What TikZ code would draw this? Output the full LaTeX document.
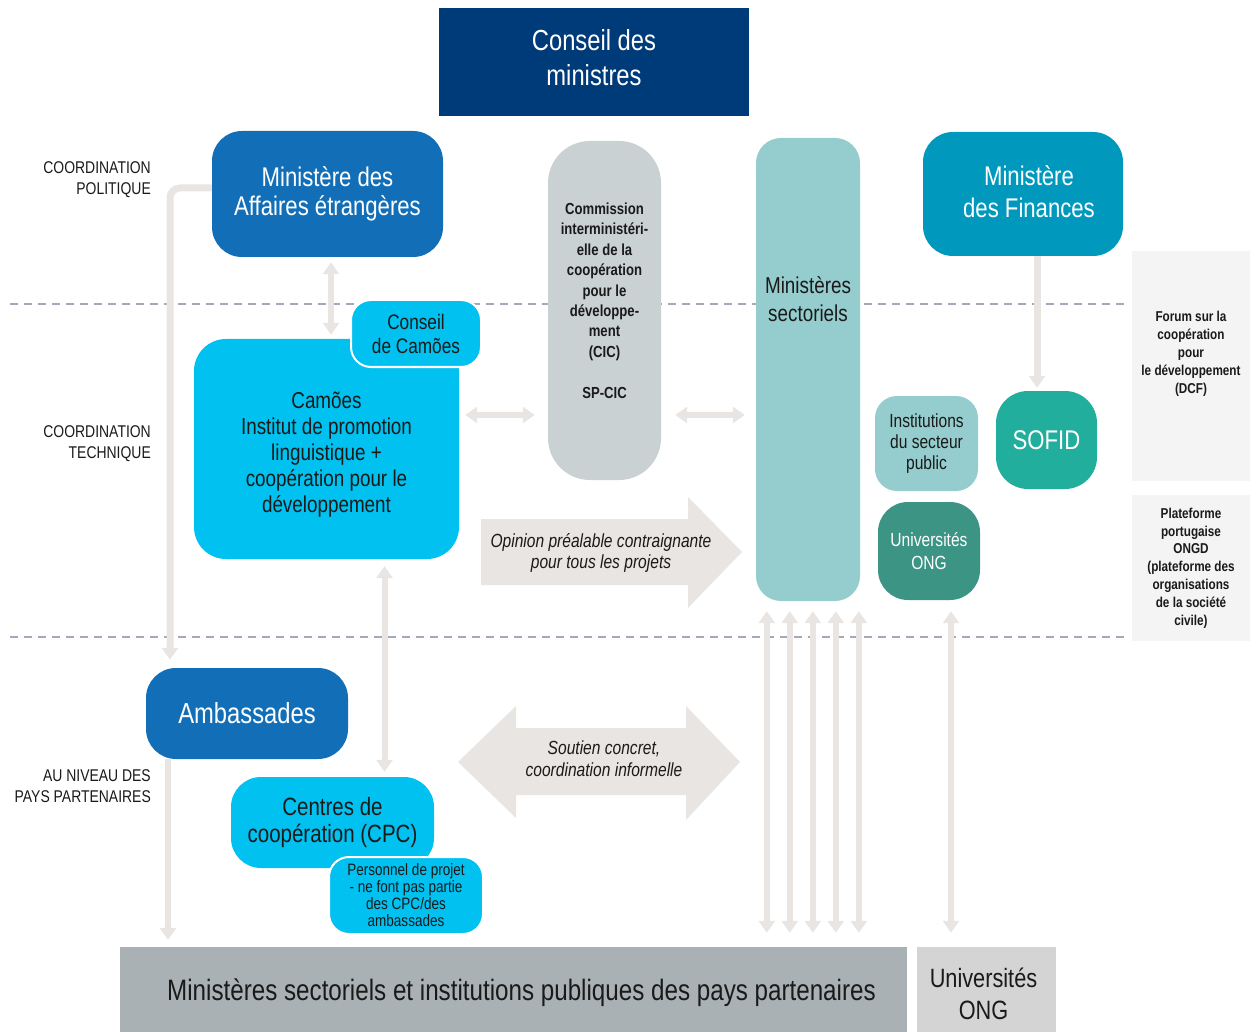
\documentclass[tikz,border=0pt]{standalone}
\usepackage{fontspec}
\setmainfont{Liberation Sans}[FakeStretch=0.82]
\usetikzlibrary{arrows.meta,backgrounds}
\definecolor{navy}{HTML}{003B79}
\definecolor{maeblue}{HTML}{126FB7}
\definecolor{cyanbox}{HTML}{00C1EF}
\definecolor{cicgrey}{HTML}{C9D1D3}
\definecolor{tealbox}{HTML}{95CCCD}
\definecolor{finblue}{HTML}{0099BD}
\definecolor{sofidc}{HTML}{22AE9C}
\definecolor{univgreen}{HTML}{3C9484}
\definecolor{forumbg}{HTML}{F4F4F4}
\definecolor{agrey}{HTML}{E8E5E2}
\definecolor{botgrey}{HTML}{A9B1B4}
\definecolor{univgrey}{HTML}{D4D4D4}
\definecolor{dashc}{HTML}{A3A9B8}
\definecolor{txt}{HTML}{1A1A1A}
\newcommand\myfs[2]{\fontsize{#1}{#2}\selectfont}
\begin{document}
\begin{tikzpicture}[x=1pt,y=-1pt,
  box/.style={inner sep=0pt, align=center, text=txt},
  wbox/.style={inner sep=0pt, align=center, text=white},
  lbl/.style={inner sep=0pt, align=right, anchor=east, text=txt, font=\myfs{17}{21}},
  tipA/.tip={Triangle[width=16pt,length=12pt]},
  sarrow/.style={draw=agrey, line width=6pt, -tipA},
  dblarrow/.style={draw=agrey, line width=6pt, tipA-tipA},
  dashln/.style={draw=dashc, line width=1.4pt, dash pattern=on 8pt off 6pt}]
\useasboundingbox (0,0) rectangle (1256,1032);

% ---- boxes ----
\node[wbox, fill=navy, minimum width=310pt, minimum height=108pt] (cdm) at (594,62) {};
\node[wbox, font=\myfs{29}{35}] (cdmtxt) at ([yshift=4pt]cdm.center) {Conseil des\\ministres};

\node[wbox, fill=maeblue, rounded corners=30pt, minimum width=231pt, minimum height=126pt, font=\myfs{27}{29.5}] (mae) at (327.5,194) {Ministère des\\Affaires étrangères};

\node[box, fill=cyanbox, rounded corners=32pt, minimum width=265pt, minimum height=220pt] (camoes) at (326.5,449) {};
\node[box, font=\myfs{23}{26}] (camoestxt) at ([yshift=-6pt]camoes.center) {Camões\\Institut de promotion\\linguistique +\\coopération pour le\\développement};

\node[box, fill=cyanbox, draw=white, line width=2pt, rounded corners=20pt, minimum width=130pt, minimum height=67pt, font=\myfs{21}{24}] (cdc) at (416,333.5) {Conseil\\de Camões};

\node[box, fill=cicgrey, rounded corners=42pt, minimum width=113pt, minimum height=339pt] (cic) at (604.5,310.5) {};
\node[box, font=\bfseries\myfs{16}{20.4}] (cictxt) at ([yshift=10pt]cic.center) {Commission\\interministéri-\\elle de la\\coopération\\pour le\\développe-\\ment\\(CIC)\\[20.4pt]SP-CIC};

\node[box, fill=tealbox, rounded corners=25pt, minimum width=104pt, minimum height=463pt] (minsect) at (808,369.5) {};
\node[box, font=\myfs{23}{28}] (minsecttxt) at ([yshift=70.5pt]minsect.center) {Ministères\\sectoriels};

\node[wbox, fill=finblue, rounded corners=30pt, minimum width=200pt, minimum height=124pt] (fin) at (1023,194) {};
\node[wbox, font=\myfs{27}{32}] (fintxt) at ([xshift=6pt,yshift=2pt]fin.center) {Ministère\\des Finances};

\node[wbox, fill=sofidc, rounded corners=32pt, minimum width=101pt, minimum height=98pt, font=\myfs{27}{32}] (sofid) at (1046.5,440) {SOFID};

\node[box, fill=tealbox, rounded corners=22pt, minimum width=103pt, minimum height=95pt, font=\myfs{19}{21}] (inst) at (926.5,443.5) {Institutions\\du secteur\\public};

\node[wbox, fill=univgreen, rounded corners=30pt, minimum width=102pt, minimum height=98pt, font=\myfs{19}{23}] (univ) at (929,551) {Universités\\ONG};

\node[box, fill=forumbg, minimum width=118pt, minimum height=230pt] (forum) at (1191,366) {};
\node[box, font=\bfseries\myfs{14.3}{18}] (forumtxt) at ([yshift=12.5pt]forum.center) {Forum sur la\\coopération\\pour\\le développement\\(DCF)};

\node[box, fill=forumbg, minimum width=118pt, minimum height=146pt, font=\bfseries\myfs{14.3}{17.8}] (plat) at (1191,568) {Plateforme\\portugaise\\ONGD\\(plateforme des\\organisations\\de la société\\civile)};

\node[wbox, fill=maeblue, rounded corners=30pt, minimum width=202pt, minimum height=91pt, font=\myfs{29}{32}] (amb) at (247,713.5) {Ambassades};

\node[box, fill=cyanbox, rounded corners=30pt, minimum width=203pt, minimum height=91pt, font=\myfs{25}{27}] (cpc) at (332.5,822.5) {Centres de\\coopération (CPC)};

\node[box, fill=cyanbox, draw=white, line width=2pt, rounded corners=20pt, minimum width=154pt, minimum height=77pt, font=\myfs{16.5}{17}] (pers) at (406,895.5) {Personnel de projet\\- ne font pas partie\\des CPC/des\\ambassades};

\node[box, fill=botgrey, minimum width=787pt, minimum height=85pt] (bot) at (513.5,989.5) {};
\node[box, font=\myfs{29.5}{32}] (bottxt) at ([xshift=8pt,yshift=-3pt]bot.center) {Ministères sectoriels et institutions publiques des pays partenaires};

\node[box, fill=univgrey, minimum width=139pt, minimum height=85pt] (univb) at (986.5,989.5) {};
\node[box, font=\myfs{26.5}{32}] (univbtxt) at ([xshift=-3pt,yshift=-4pt]univb.center) {Universités\\ONG};

% ---- side labels ----
\node[lbl] (lpol) at (151,179.5) {COORDINATION\\POLITIQUE};
\node[lbl] (ltech) at (151,443.5) {COORDINATION\\TECHNIQUE};
\node[lbl] (lpays) at (151,786.5) {AU NIVEAU DES\\PAYS PARTENAIRES};

% ---- big arrows ----
\fill[agrey] (481,519) -- (688,519) -- (688,497) -- (742,552) -- (688,608) -- (688,585) -- (481,585) -- cycle;
\node[box, font=\itshape\myfs{19}{21}] (opinion) at (601,552.5) {Opinion préalable contraignante\\pour tous les projets};

\fill[agrey] (458,762) -- (516,706) -- (516,728) -- (686,728) -- (686,706) -- (740,762) -- (686,820) -- (686,795) -- (516,795) -- (516,818) -- cycle;
\node[box, font=\itshape\myfs{19}{22}] (soutien) at (604,759) {Soutien concret,\\coordination informelle};

% ---- background: dashed lines and connectors ----
\begin{pgfonlayer}{background}
\coordinate (d1a) at (10,304);
\coordinate (d1b) at (1128,304);
\coordinate (d2a) at (10,637);
\coordinate (d2b) at (1128,637);
\draw[dashln] (d1a) -- (d1b);
\draw[dashln] (d2a) -- (d2b);

\draw[sarrow, line width=7pt, rounded corners=10pt, shorten >=8pt] ([yshift=6pt]mae.west) -| ([xshift=-77pt]amb.north);
\coordinate (a1) at ([xshift=-79pt]amb.south);
\draw[sarrow, shorten >=7pt] (a1) -- (a1 |- bot.north);

\coordinate (a2) at ([xshift=3.5pt]mae.south);
\draw[dblarrow, shorten <=5pt, shorten >=4pt] (a2) -- (a2 |- camoes.north);

\coordinate (a3) at ([xshift=58pt]camoes.south);
\draw[dblarrow, shorten <=7pt, shorten >=5pt] (a3) -- (a3 |- cpc.north);

\coordinate (hy) at ([yshift=34pt]camoes.east);
\draw[dblarrow, shorten <=6pt, shorten >=13pt] (hy) -- (hy -| cic.west);
\draw[dblarrow, shorten <=14pt, shorten >=11pt] (hy -| cic.east) -- (hy -| minsect.west);

\coordinate (a4) at ([xshift=14pt]fin.south);
\draw[sarrow, line width=7pt, shorten >=3pt] (a4) -- (a4 |- sofid.north);

\foreach \dx [count=\i] in {11,34,57,80,103} {
  \coordinate (v\i) at ([xshift=\dx pt]minsect.south west);
  \draw[dblarrow, shorten <=10pt, shorten >=14pt] (v\i) -- (v\i |- bot.north);
}
\coordinate (a5) at ([xshift=22pt]univ.south);
\draw[dblarrow, shorten <=11pt, shorten >=14pt] (a5) -- (a5 |- univb.north);
\end{pgfonlayer}
\end{tikzpicture}
\end{document}
